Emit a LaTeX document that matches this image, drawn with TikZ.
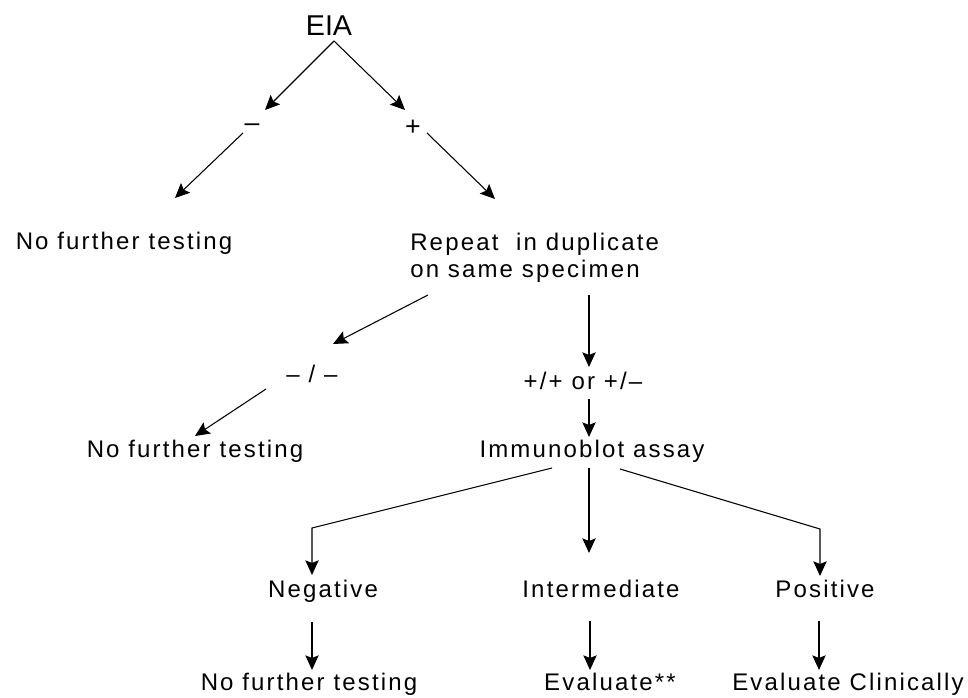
\documentclass[tikz,border=0pt]{standalone}
\usepackage{fontspec}
\setmainfont{Liberation Sans}[LetterSpace=9]
\newfontfamily\plainfont{Liberation Sans}
\usetikzlibrary{arrows.meta}
\begin{document}
\begin{tikzpicture}[x=0.75pt,y=-0.75pt,
  lbl/.style={font=\fontsize{18}{21}\selectfont, inner sep=0pt, anchor=base},
  arr/.style={line width=0.8pt, -{Stealth[length=11pt,width=10pt,inset=2pt]}},
  ln/.style={line width=0.8pt}]
\useasboundingbox (0,0) rectangle (968,698);
% text nodes
\node[lbl] (eia) at (329,36) {\plainfont\fontsize{21.5}{24}\selectfont EIA};
\node[lbl] (mn) at (252,132) {\fontsize{20}{24}\selectfont –};
\node[lbl] (pl) at (413,136) {\fontsize{20}{24}\selectfont +};
\node[lbl] (nft1) at (124,250) {No further testing};
\node[lbl, anchor=base west] (rep1) at (410,251) {Repeat\ \ in duplicate};
\node[lbl, anchor=base west] (rep2) at (410,278) {on same specimen};
\node[lbl] (mm) at (312,383) {– / –};
\node[lbl] (pp) at (583,390) {+/+ or +/–};
\node[lbl] (nft2) at (195,458) {No further testing};
\node[lbl] (imm) at (592,458) {Immunoblot assay};
\node[lbl] (neg) at (323,597) {Negative};
\node[lbl] (int) at (601,597) {Intermediate};
\node[lbl] (pos) at (825,597) {Positive};
\node[lbl] (nft3) at (309,690) {No further testing};
\node[lbl] (ev) at (610,690) {Evaluate**};
\node[lbl] (evc) at (848,690) {Evaluate Clinically};
% connector end points
\coordinate (eiaS) at (334,41);
\coordinate (mnN) at (265,110);
\coordinate (plN) at (405,110);
\coordinate (mnS) at (243,133);
\coordinate (nft1N) at (175,198);
\coordinate (plS) at (427,133);
\coordinate (repN) at (495,199);
\coordinate (repSW) at (428,295);
\coordinate (mmN) at (333,344);
\coordinate (mmS) at (266,389);
\coordinate (nft2N) at (195,436);
\coordinate (repS) at (589,295);
\coordinate (ppN) at (589,367);
\coordinate (ppS) at (589,399);
\coordinate (immN) at (589,437);
\coordinate (immSW) at (552,468);
\coordinate (negK) at (312,528);
\coordinate (negN) at (312,575);
\coordinate (immS) at (589,468);
\coordinate (intN) at (589,553);
\coordinate (immSE) at (620,469);
\coordinate (posK) at (820,529);
\coordinate (posN) at (820,576);
\coordinate (negS) at (312,622);
\coordinate (nft3N) at (312,670);
\coordinate (intS) at (590,621);
\coordinate (evN) at (590,670);
\coordinate (posS) at (819,621);
\coordinate (evcN) at (819,670);
% connectors
\draw[arr] (eiaS) -- (mnN);
\draw[arr] (eiaS) -- (plN);
\draw[arr] (mnS) -- (nft1N);
\draw[arr] (plS) -- (repN);
\draw[arr] (repSW) -- (mmN);
\draw[arr] (mmS) -- (nft2N);
\draw[arr] (repS) -- (ppN);
\draw[arr] (ppS) -- (immN);
\draw[arr] (immSW) -- (negK) -- (negN);
\draw[arr] (immS) -- (intN);
\draw[arr] (immSE) -- (posK) -- (posN);
\draw[arr] (negS) -- (nft3N);
\draw[arr] (intS) -- (evN);
\draw[arr] (posS) -- (evcN);
\end{tikzpicture}
\end{document}
